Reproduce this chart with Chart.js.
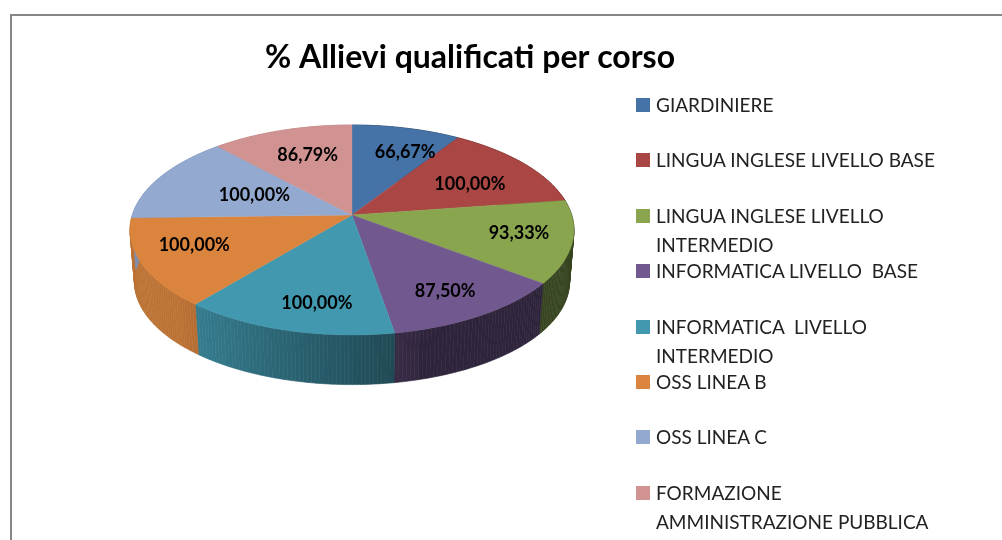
<!DOCTYPE html>
<html>
<head>
<meta charset="utf-8">
<title>% Allievi qualificati per corso</title>
<script src="https://cdn.jsdelivr.net/npm/chart.js@4"></script>
<style>
    html, body { margin: 0; background: #fff; overflow: hidden; }
    #bordo { position: absolute; left: 10px; top: 14px; width: 1100px; height: 700px; border: 2px solid #868686; }
    #grafica { position: absolute; left: 0; top: 0; }
    #legenda { position: absolute; left: 636px; top: 90px; font: 19px Lato, sans-serif; color: #222; }
    .voce { position: absolute; left: 0; width: 306px; padding-left: 20px; line-height: 29.5px; white-space: pre-wrap; }
    .quadrato { position: absolute; left: 0; top: 8px; width: 14px; height: 14px; }
</style>
</head>
<body>
<div id="bordo"></div>
<canvas id="grafica" width="940" height="540"></canvas>
<div id="legenda"></div>
<script>
const corsi = [
    "GIARDINIERE",
    "LINGUA INGLESE LIVELLO BASE",
    "LINGUA INGLESE LIVELLO INTERMEDIO",
    "INFORMATICA LIVELLO  BASE",
    "INFORMATICA  LIVELLO INTERMEDIO",
    "OSS LINEA B",
    "OSS LINEA C",
    "FORMAZIONE AMMINISTRAZIONE PUBBLICA"
];
const percentuali = [66.67, 100, 93.33, 87.5, 100, 100, 100, 86.79];
const colori = ["#4572A7", "#AA4643", "#89A54E", "#71588F", "#4198AF", "#DB843D", "#93A9CF", "#D19392"];

// torta vista in prospettiva: il centro non coincide con il centro dell'ellisse
const vista = { cx: 352, cy: 215, a: 219.7, b: 102.86, c: 1 / 7, scalaBase: 0.98, spessore: 52 };

function proietta(u, v, base) {
    const den = 1 - vista.c * v;
    const s = base ? vista.scalaBase : 1;
    return {
        x: vista.cx + s * vista.a * u / den,
        y: vista.cy + s * vista.b * v / den + (base ? vista.spessore : 0)
    };
}
function suBordo(angolo, base) { // angolo di Chart.js (parte da -PI/2)
    return proietta(Math.cos(angolo), Math.sin(angolo), base);
}
function ombra(angolo) { // luminosita' della parete in base alla posizione
    let g = (angolo + Math.PI / 2) * 180 / Math.PI;
    if (g <= 165) return 0.41;
    if (g >= 225) return 0.86;
    return 0.45 + (g - 165) / 60 * 0.41;
}
function scurisci(hex, k) {
    const n = parseInt(hex.slice(1), 16);
    return `rgb(${Math.round((n >> 16) * k)},${Math.round(((n >> 8) & 255) * k)},${Math.round((n & 255) * k)})`;
}

const torta3d = {
    id: "torta3d",
    beforeDatasetDraw(chart, args, opts) {
        const ctx = chart.ctx;
        const archi = chart.getDatasetMeta(0).data;
        ctx.save();
        // pareti laterali, poi la faccia superiore le copre dove serve
        archi.forEach((arco, i) => {
            const passi = Math.ceil((arco.endAngle - arco.startAngle) * 60);
            for (let p = 0; p < passi; p++) {
                const a0 = arco.startAngle + (arco.endAngle - arco.startAngle) * p / passi;
                const a1 = arco.startAngle + (arco.endAngle - arco.startAngle) * (p + 1) / passi;
                const t0 = suBordo(a0), t1 = suBordo(a1), b0 = suBordo(a0, true), b1 = suBordo(a1, true);
                ctx.fillStyle = ctx.strokeStyle = scurisci(colori[i], ombra((a0 + a1) / 2));
                ctx.lineWidth = 0.6;
                ctx.beginPath();
                ctx.moveTo(t0.x, t0.y);
                ctx.lineTo(t1.x, t1.y);
                ctx.lineTo(b1.x, b1.y);
                ctx.lineTo(b0.x, b0.y);
                ctx.closePath();
                ctx.fill();
                ctx.stroke();
            }
        });
        archi.forEach((arco, i) => {
            const passi = Math.ceil((arco.endAngle - arco.startAngle) * 60);
            ctx.fillStyle = ctx.strokeStyle = colori[i];
            ctx.lineWidth = 0.4;
            ctx.beginPath();
            ctx.moveTo(vista.cx, vista.cy);
            for (let p = 0; p <= passi; p++) {
                const q = suBordo(arco.startAngle + (arco.endAngle - arco.startAngle) * p / passi);
                ctx.lineTo(q.x, q.y);
            }
            ctx.closePath();
            ctx.fill();
            ctx.stroke();
        });
        ctx.restore();
        return false;
    },
    afterDatasetsDraw(chart, args, opts) { // etichette con i valori
        const ctx = chart.ctx;
        ctx.save();
        ctx.font = opts.font;
        ctx.fillStyle = "#000";
        ctx.textAlign = "center";
        ctx.textBaseline = "middle";
        chart.getDatasetMeta(0).data.forEach((arco, i) => {
            const ang = (arco.startAngle + arco.endAngle) / 2 + opts.labelTurn[i] * Math.PI / 180;
            const q = proietta(opts.labelRadius[i] * Math.cos(ang), opts.labelRadius[i] * Math.sin(ang));
            ctx.fillText(percentuali[i].toFixed(2).replace(".", ",") + "%", q.x, q.y);
        });
        ctx.restore();
    }
};

new Chart(document.getElementById("grafica"), {
    type: "pie",
    data: {
        labels: corsi,
        datasets: [{ data: percentuali, backgroundColor: colori }]
    },
    options: {
        responsive: false,
        animation: false,
        plugins: {
            legend: { display: false },
            tooltip: { enabled: false },
            title: {
                display: true,
                text: "% Allievi qualificati per corso",
                color: "#000",
                font: { family: "Lato", size: 32, weight: "bold" },
                padding: { top: 38, bottom: 10 }
            },
            torta3d: {
                font: "bold 18px Lato",
                labelRadius: [0.722, 0.643, 0.761, 0.77, 0.775, 0.744, 0.496, 0.673],
                labelTurn: [5.2, 3.5, -1.6, 1.2, -4.3, 4, 0, 2.2]
            }
        }
    },
    plugins: [torta3d]
});

// legenda a parte: le voci hanno passo fisso e il testo lungo va a capo sotto
const legenda = document.getElementById("legenda");
corsi.forEach((nome, i) => {
    const voce = document.createElement("div");
    voce.className = "voce";
    voce.style.top = (i * 55.4) + "px";
    voce.textContent = nome;
    const quadrato = document.createElement("div");
    quadrato.className = "quadrato";
    quadrato.style.background = colori[i];
    voce.appendChild(quadrato);
    legenda.appendChild(voce);
});
</script>
</body>
</html>
